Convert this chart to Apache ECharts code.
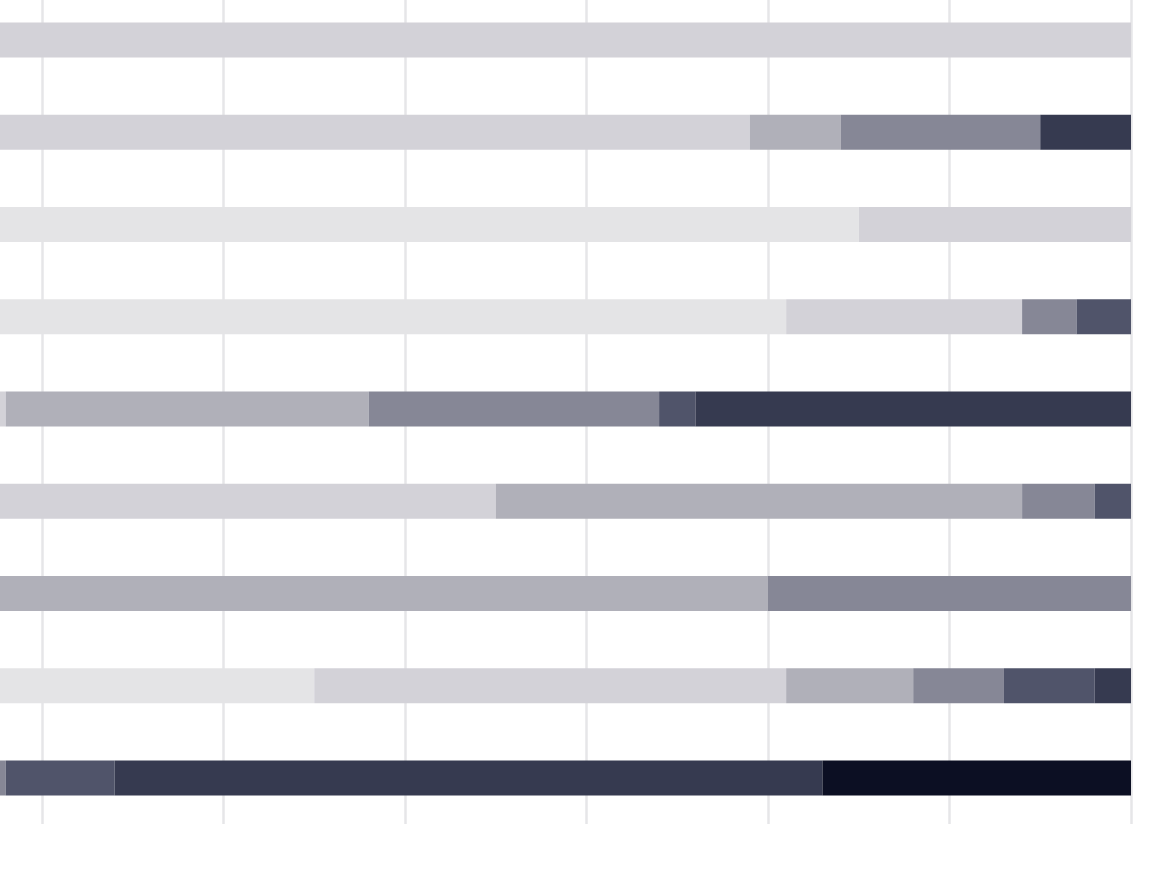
<!DOCTYPE html>
<html>
<head>
<meta charset="utf-8">
<script src="https://cdn.jsdelivr.net/npm/echarts@6/dist/echarts.min.js"></script>
<style>
html,body{margin:0;padding:0;background:#fff;width:1171px;height:891px;overflow:hidden;position:relative}
#chart{position:absolute;left:-684px;top:-6px;width:1855px;height:897px}
</style>
</head>
<body>
<div id="chart"></div>
<script>
// Categories (top to bottom)
const categories = ['Row 1','Row 2','Row 3','Row 4','Row 5','Row 6','Row 7','Row 8','Row 9'];
// Level names, lightest to darkest
const levels = ['Level 1','Level 2','Level 3','Level 4','Level 5','Level 6','Level 7','Level 8'];
const levelColors = ['#f1f1f3','#e4e4e6','#d3d2d8','#b0b0b9','#868796','#50546a','#363a50','#0c0f23'];
// Share (%) per level for each row
const level1 = [10, 0, 20, 25, 0, 0, 0, 15, 0];
const level2 = [20, 15, 65, 56, 10, 20, 0, 40, 0];
const level3 = [70, 64, 15, 13, 28, 45, 30, 26, 0];
const level4 = [0, 5, 0, 0, 20, 29, 50, 7, 10];
const level5 = [0, 11, 0, 3, 16, 4, 20, 5, 28];
const level6 = [0, 0, 0, 3, 2, 2, 0, 5, 6];
const level7 = [0, 5, 0, 0, 24, 0, 0, 2, 39];
const level8 = [0, 0, 0, 0, 0, 0, 0, 0, 17];
const xTicks = [0, 10, 20, 30, 40, 50, 60, 70, 80, 90, 100];

const levelData = [level1, level2, level3, level4, level5, level6, level7, level8];

const chart = echarts.init(document.getElementById('chart'), null, {renderer: 'canvas'});
chart.setOption({
  animation: false,
  backgroundColor: '#ffffff',
  grid: {left: 0, right: 40, top: 0, bottom: 67, containLabel: false},
  xAxis: {
    type: 'value', min: xTicks[0], max: xTicks[xTicks.length - 1], interval: 10,
    axisLine: {show: false}, axisTick: {show: false}, axisLabel: {show: false},
    splitLine: {show: true, lineStyle: {color: '#e6e6e8', width: 2.5}}
  },
  yAxis: {
    type: 'category', data: categories, inverse: true,
    axisLine: {show: false}, axisTick: {show: false}, axisLabel: {show: false},
    splitLine: {show: false}
  },
  series: levels.map((name, i) => ({
    name: name,
    type: 'bar',
    stack: 'total',
    barWidth: 35,
    data: levelData[i],
    itemStyle: {color: levelColors[i]},
    emphasis: {disabled: true}
  }))
});
</script>
</body>
</html>
